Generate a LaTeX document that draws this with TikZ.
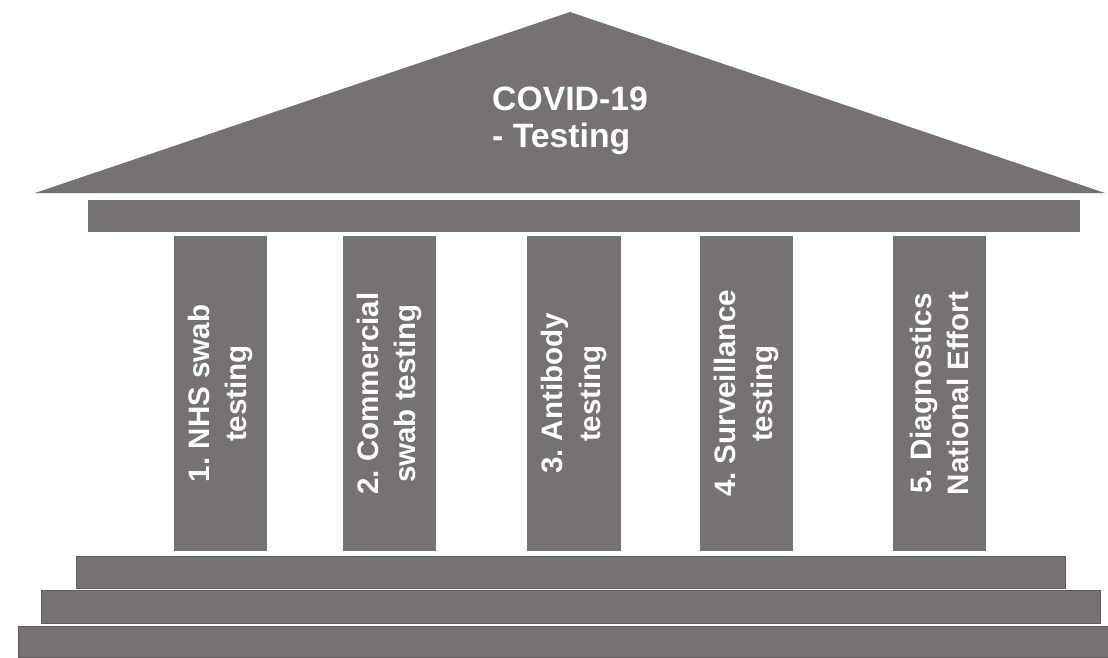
\documentclass[tikz,border=0pt]{standalone}
\usepackage{fontspec}
\setmainfont{Liberation Sans}
\usetikzlibrary{positioning}
\definecolor{stonegray}{RGB}{118,114,113}
\definecolor{stoneedge}{RGB}{96,92,91}
\frenchspacing

\begin{document}
\begin{tikzpicture}[x=0.025cm,y=-0.025cm,
    pillar/.style={fill=stonegray, rotate=90, minimum width=7.875cm,
        minimum height=2.325cm, inner sep=0pt, text=white, align=center,
        font=\bfseries\fontsize{21}{26.5}\selectfont},
    slab/.style={fill=stonegray, draw=stoneedge, line width=0.5pt}]
    \useasboundingbox (0,0) rectangle (1108,657);

    % roof and beam
    \fill[stonegray] (35,193) -- (570,12) -- (1105,193) -- cycle;
    \node[text=white, align=left, font=\bfseries\fontsize{24}{26.5}\selectfont]
        (roof) at (570,121) {COVID-19\\- Testing};
    \fill[stonegray] (88,200) rectangle (1080,232);

    % pillars
    \node[pillar] (nhs) at (220.5,393.5) {1. NHS swab\\testing};
    \node[pillar] (commercial) at (389.5,393.5) {2. Commercial\\swab testing};
    \node[pillar] (antibody) at (574,393.5) {3. Antibody\\testing};
    \node[pillar] (surveillance) at (746.5,393.5) {4. Surveillance\\testing};
    \node[pillar] (national) at (939.5,393.5) {5. Diagnostics\\National Effort};

    % steps
    \filldraw[slab] (76,556) rectangle (1065,588);
    \filldraw[slab] (41,590) rectangle (1100,623);
    \filldraw[slab] (18,626) rectangle (1108,657);
\end{tikzpicture}
\end{document}
